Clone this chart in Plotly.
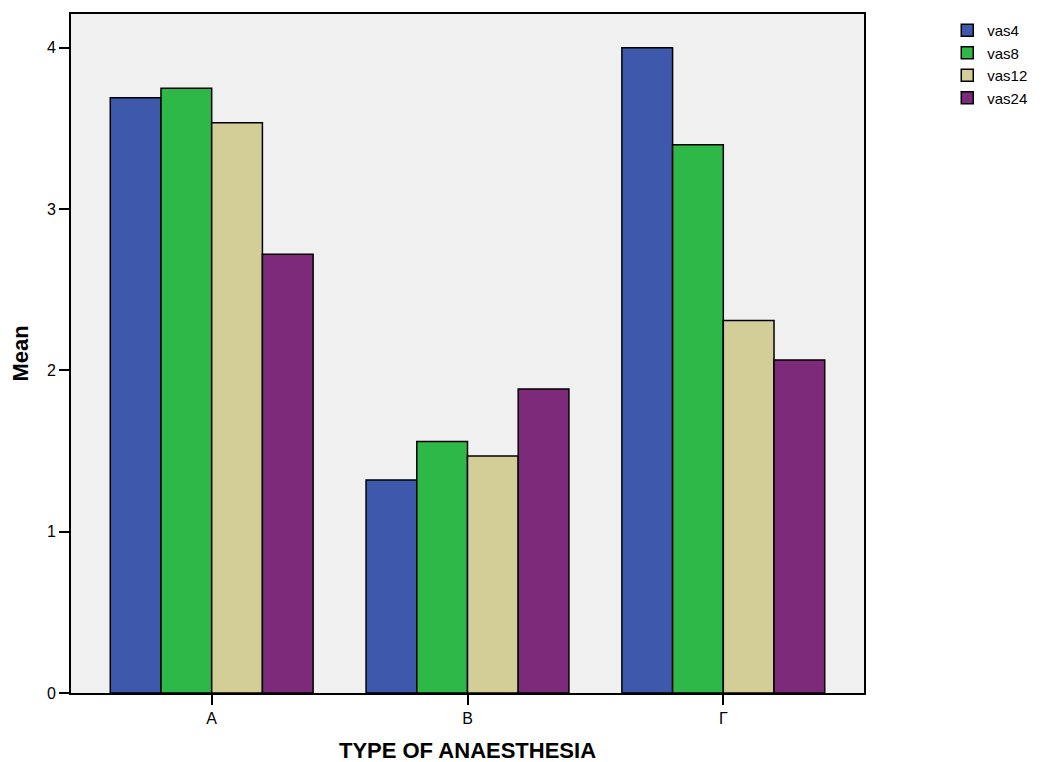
import plotly.graph_objects as go

categories = ["Α", "Β", "Γ"]
series = ["vas4", "vas8", "vas12", "vas24"]
values = {
    "vas4": [3.69, 1.32, 4.00],
    "vas8": [3.75, 1.56, 3.40],
    "vas12": [3.535, 1.47, 2.31],
    "vas24": [2.72, 1.885, 2.065],
}
colors = {
    "vas4": "#3E58AC",
    "vas8": "#2EB848",
    "vas12": "#D3CE97",
    "vas24": "#7D2A7A",
}

fig = go.Figure()
for s in series:
    fig.add_trace(go.Bar(
        x=categories, y=values[s], name=s,
        marker=dict(color=colors[s], line=dict(color="black", width=1.5)),
    ))

# page body has an 8px margin, so offsets are compensated here
fig.update_layout(
    width=1046, height=762,
    barmode="group", bargap=0.207, bargroupgap=0,
    plot_bgcolor="#F0F0F0", paper_bgcolor="white",
    margin=dict(l=63, r=190, t=6, b=77),
    font=dict(family="Liberation Sans, Arial", size=16, color="black"),
    legend=dict(x=1.105, y=1.0, xanchor="left", yanchor="top",
                font=dict(size=15), tracegroupgap=0, itemwidth=30),
)
fig.update_xaxes(
    automargin=False,
    range=[-0.55, 2.55], showline=True, linecolor="black", linewidth=2, mirror=True,
    ticks="outside", ticklen=10, tickwidth=2, tickcolor="black",
    title=dict(text="<b>TYPE OF ANAESTHESIA</b>", font=dict(size=22), standoff=16),
)
fig.update_yaxes(
    automargin=False,
    range=[0, 4.21], tickvals=[0, 1, 2, 3, 4], showgrid=False, zeroline=False,
    showline=True, linecolor="black", linewidth=2, mirror=True,
    ticks="outside", ticklen=10, tickwidth=2, tickcolor="black",
    title=dict(text="<b>Mean</b>", font=dict(size=22), standoff=18),
)

fig.write_html("out.html")
